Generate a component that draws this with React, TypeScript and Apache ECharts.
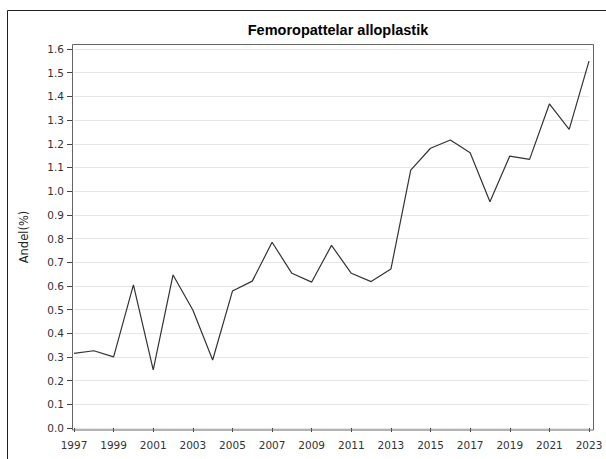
import React, { useEffect, useRef } from "react";
import * as echarts from "echarts";

const years: string[] = [
  "1997", "1998", "1999", "2000", "2001", "2002", "2003", "2004", "2005",
  "2006", "2007", "2008", "2009", "2010", "2011", "2012", "2013", "2014",
  "2015", "2016", "2017", "2018", "2019", "2020", "2021", "2022", "2023",
];

const andel: number[] = [
  0.315, 0.326, 0.3, 0.604, 0.245, 0.646, 0.498, 0.287, 0.578,
  0.62, 0.784, 0.653, 0.616, 0.771, 0.653, 0.618, 0.671, 1.089,
  1.181, 1.216, 1.162, 0.955, 1.148, 1.134, 1.368, 1.261, 1.549,
];

const titleText = "Femoropattelar alloplastik";
const yAxisTitle = "Andel(%)";

export default function App() {
  const ref = useRef<HTMLDivElement>(null);

  useEffect(() => {
    if (!ref.current) return;
    const chart = echarts.init(ref.current, undefined, { renderer: "svg" });
    const labelFont = "DejaVu Sans";
    chart.setOption({
      animation: false,
      backgroundColor: "#ffffff",
      title: {
        text: titleText,
        left: 333,
        top: 17,
        textAlign: "center",
        textStyle: {
          fontFamily: "Liberation Sans",
          fontWeight: "bold",
          fontSize: 14.5,
          color: "#000000",
        },
      },
      grid: { left: 74, right: 17, top: 49, bottom: 31, containLabel: false },
      xAxis: {
        type: "category",
        data: years,
        boundaryGap: false,
        offset: 2,
        axisLine: { show: false },
        axisTick: {
          show: true,
          length: 4,
          interval: (i: number) => i % 2 === 0,
          lineStyle: { color: "#444444", width: 1 },
        },
        axisLabel: {
          interval: (i: number) => i % 2 === 0,
          margin: 9,
          fontFamily: labelFont,
          fontSize: 10.5,
          color: "#333333",
        },
        splitLine: { show: false },
      },
      yAxis: {
        type: "value",
        min: 0,
        max: 1.6,
        interval: 0.1,
        offset: 2,
        axisLine: { show: false },
        axisTick: { show: true, length: 5, lineStyle: { color: "#444444", width: 1 } },
        axisLabel: {
          margin: 8,
          fontFamily: labelFont,
          fontSize: 10.5,
          color: "#333333",
          formatter: (v: number) => v.toFixed(1),
        },
        splitLine: { show: true, lineStyle: { color: "#e6e6e6", width: 1 } },
      },
      graphic: [
        {
          type: "rect",
          shape: { x: 7.5, y: 10.5, width: 700, height: 600 },
          style: { fill: "none", stroke: "#222222", lineWidth: 1 },
          silent: true,
        },
        {
          type: "rect",
          shape: { x: 72.5, y: 44.5, width: 521, height: 385.5 },
          style: { fill: "none", stroke: "#666666", lineWidth: 1 },
          silent: true,
          z: 10,
        },
        {
          type: "text",
          x: 24,
          y: 237,
          rotation: Math.PI / 2,
          style: {
            text: yAxisTitle,
            fontFamily: labelFont,
            fontSize: 11.5,
            fill: "#222222",
            align: "center",
            verticalAlign: "middle",
          },
          silent: true,
        },
      ],
      series: [
        {
          type: "line",
          data: andel,
          symbol: "none",
          lineStyle: { color: "#333333", width: 1.2 },
          z: 5,
        },
      ],
    });
    return () => chart.dispose();
  }, []);

  return (
    <div
      ref={ref}
      style={{ position: "fixed", left: 0, top: 0, width: 606, height: 459 }}
    />
  );
}
